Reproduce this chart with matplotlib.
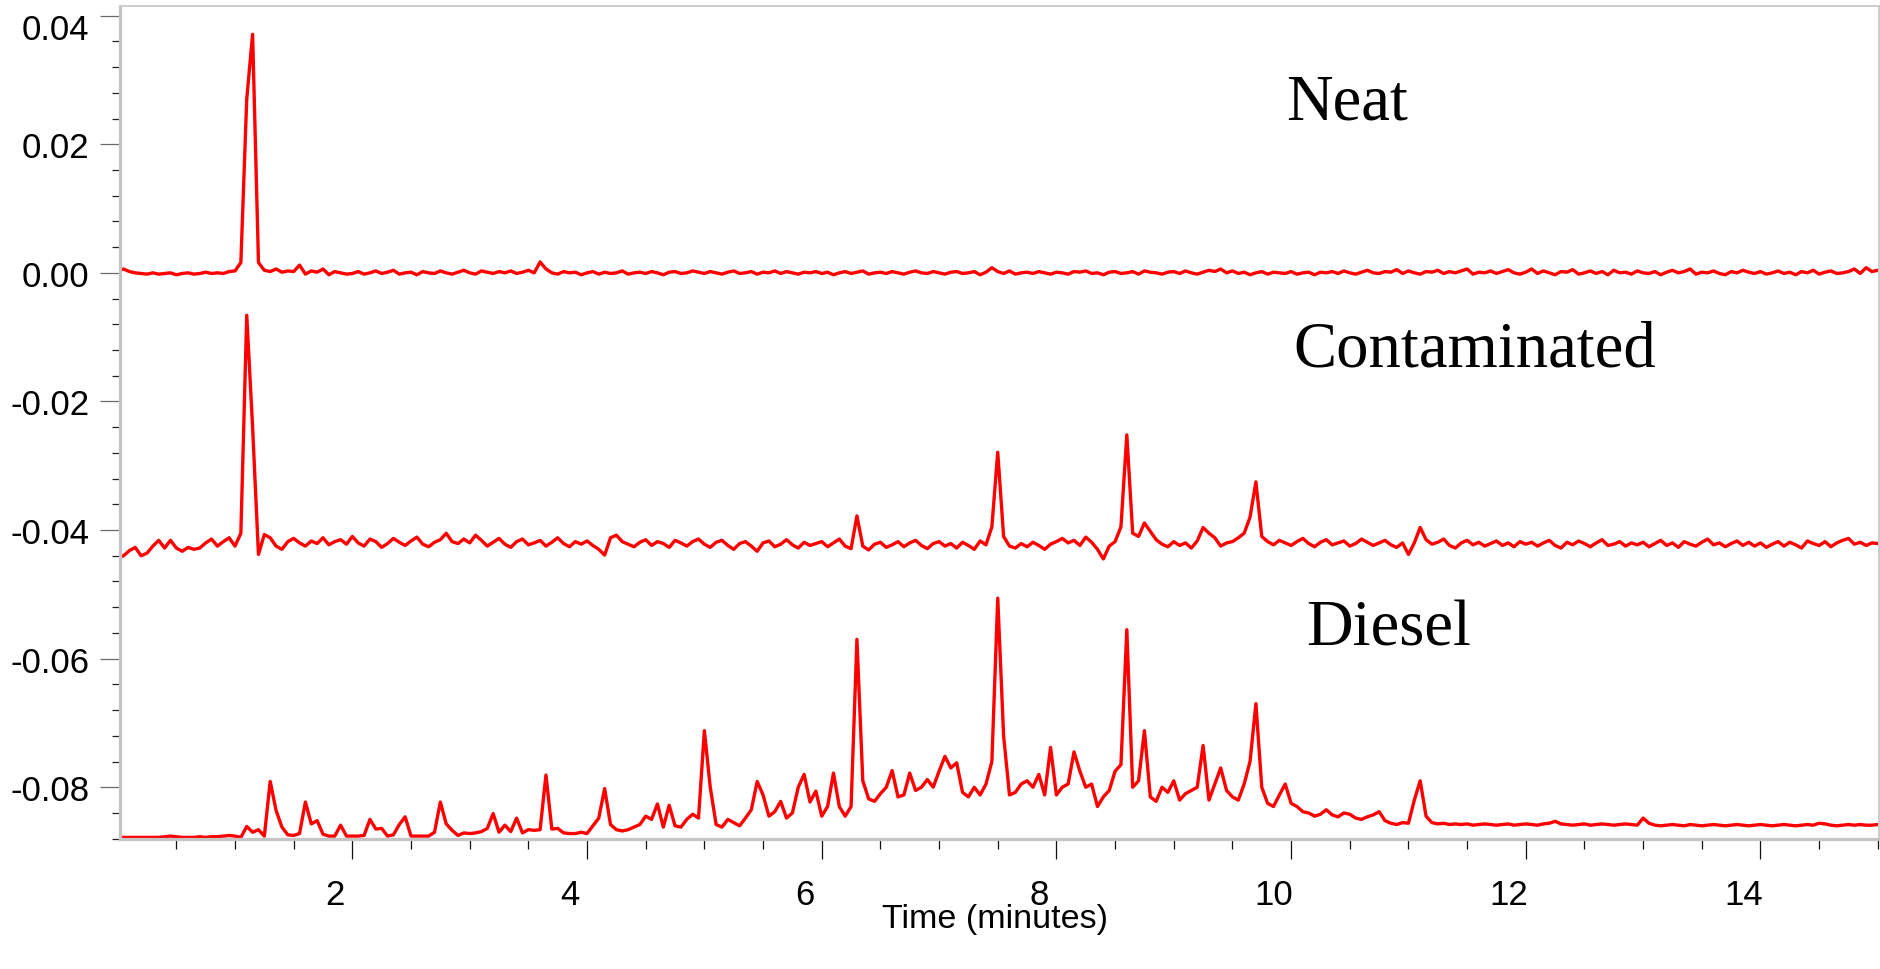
import numpy as np
import matplotlib
matplotlib.use("Agg")
import matplotlib.pyplot as plt
from matplotlib.ticker import FixedLocator, MultipleLocator
from matplotlib.transforms import ScaledTranslation

plt.rcParams['font.family'] = ['Liberation Sans', 'DejaVu Sans']
plt.rcParams['axes.unicode_minus'] = False

# ---------------- data (absorbance in units of 1e-4, one sample every 0.05 min) -------------
T_STEP = 0.05

neat_rows = [
    [3, 6, 2, 0, -1, -2, 0, -2, -1, 0, -3, -1, 0, -2, -1, 1, -1, 0, -1, 2],
    [3, 16, 270, 371, 16, 4, 2, 6, 1, 3, 2, 12, -2, 3, 1, 6, -3, 2, 0, -2],
    [-1, 2, -2, 0, 3, -1, 1, 4, -2, 0, 1, -3, 2, 0, -1, 3, 0, -2, 1, 4],
    [0, -2, 3, 1, -1, 2, 0, 3, -1, 1, 4, 0, 17, 6, 0, -2, 2, 0, 1, -3],
    [0, 2, -2, 1, -1, 0, 3, -2, 0, 1, -1, 2, 0, -3, 1, 2, -1, 0, 3, 1],
    [-1, 2, 0, -2, 1, 3, -1, 0, 2, -2, 1, 0, 3, -1, 2, 0, -2, 1, 0, 2],
    [-1, 1, -3, 0, 2, -1, 1, 3, -2, 0, 1, -1, 2, 0, -2, 1, 3, 0, -1, 2],
    [0, -2, 1, 2, -1, 0, 2, -3, 1, 8, 2, -1, 3, -2, 0, 1, -1, 2, 0, -2],
    [1, 0, -2, 2, 1, 3, -1, 0, -3, 1, 2, -1, 0, 2, -2, 3, 1, 0, -2, 1],
    [2, -1, 3, 0, -2, 1, 4, 2, 6, 0, 3, -1, 1, -3, 0, 2, -2, 1, 0, -1],
    [2, -2, 0, 1, -3, 1, 0, 2, -1, 3, 0, -2, 1, 4, 0, -1, 2, 1, 5, -1],
    [3, 0, -2, 2, 1, 4, -1, 2, 0, 3, 6, -2, 1, 0, 3, -1, 2, 5, 0, -2],
    [1, 6, -1, 3, 0, -3, 2, 1, 5, -2, 0, 3, -1, 2, -3, 4, 0, 1, -2, 3],
    [0, -1, 2, -3, 1, 4, 0, 2, 6, -2, 1, 0, 3, -1, -3, 2, 0, 4, 1, -1],
    [2, -2, 0, 3, -1, 1, -3, 2, 0, 4, -2, 1, 3, -1, 0, 2, 6, -1, 8, 2],
    [4],
]

contaminated_rows = [
    [-443, -440, -432, -427, -440, -436, -425, -416, -428, -416, -428, -433, -427, -430, -428, -420, -414, -425, -418, -412],
    [-425, -405, -66, -240, -438, -407, -412, -425, -430, -418, -413, -420, -425, -417, -421, -412, -423, -418, -415, -422],
    [-410, -420, -425, -414, -418, -427, -421, -413, -419, -424, -417, -411, -422, -426, -419, -415, -405, -418, -421, -414],
    [-420, -408, -416, -425, -419, -413, -422, -427, -418, -414, -423, -420, -416, -425, -419, -412, -421, -426, -418, -422],
    [-417, -424, -430, -439, -412, -408, -418, -422, -426, -419, -415, -424, -418, -421, -427, -416, -420, -425, -418, -414],
    [-422, -427, -419, -416, -424, -430, -421, -418, -425, -433, -420, -417, -426, -422, -415, -423, -428, -419, -424, -421],
    [-418, -426, -420, -414, -425, -429, -378, -425, -431, -422, -419, -427, -423, -418, -426, -420, -416, -424, -429, -421],
    [-418, -425, -421, -428, -419, -424, -430, -417, -423, -395, -279, -410, -425, -428, -421, -426, -419, -424, -430, -422],
    [-418, -413, -420, -416, -424, -411, -419, -430, -445, -425, -418, -395, -252, -405, -410, -389, -402, -415, -422, -426],
    [-418, -424, -420, -428, -417, -396, -405, -412, -425, -420, -418, -412, -405, -380, -325, -410, -418, -423, -416, -420],
    [-424, -418, -413, -421, -426, -419, -415, -423, -420, -417, -425, -421, -414, -419, -424, -420, -416, -423, -427, -420],
    [-438, -420, -396, -415, -422, -419, -414, -424, -428, -420, -416, -423, -419, -425, -421, -417, -424, -420, -426, -418],
    [-422, -419, -425, -420, -416, -424, -428, -419, -423, -417, -421, -426, -420, -415, -424, -422, -418, -425, -420, -423],
    [-419, -426, -421, -416, -424, -420, -427, -418, -422, -425, -419, -414, -423, -420, -426, -421, -417, -424, -419, -425],
    [-420, -427, -422, -418, -425, -419, -423, -428, -417, -421, -424, -418, -426, -420, -416, -413, -422, -419, -424, -420],
    [-421],
]

diesel_rows = [
    [-878, -878, -878, -878, -878, -878, -878, -878, -877, -876, -877, -878, -878, -878, -877, -878, -877, -877, -876, -875],
    [-876, -878, -861, -870, -866, -876, -791, -836, -862, -874, -875, -872, -823, -857, -852, -873, -876, -876, -859, -876],
    [-876, -876, -875, -850, -865, -864, -876, -874, -858, -846, -876, -876, -876, -876, -870, -823, -857, -867, -875, -871],
    [-872, -871, -869, -864, -841, -870, -859, -869, -848, -871, -866, -867, -866, -781, -865, -864, -871, -872, -872, -870],
    [-872, -860, -848, -802, -858, -866, -868, -866, -862, -858, -845, -850, -826, -862, -828, -860, -862, -850, -842, -848],
    [-712, -800, -858, -862, -850, -855, -860, -848, -835, -791, -812, -845, -838, -822, -848, -840, -800, -780, -823, -806],
    [-845, -830, -778, -830, -845, -830, -570, -790, -818, -822, -810, -800, -774, -815, -812, -778, -805, -800, -788, -800],
    [-775, -752, -770, -762, -808, -815, -800, -812, -795, -760, -506, -720, -812, -808, -795, -790, -800, -780, -812, -738],
    [-812, -800, -795, -745, -775, -800, -795, -830, -815, -805, -775, -765, -555, -800, -790, -712, -815, -822, -800, -808],
    [-790, -820, -810, -805, -800, -735, -820, -795, -770, -805, -815, -820, -795, -760, -670, -800, -825, -830, -812, -795],
    [-825, -830, -838, -840, -845, -842, -835, -843, -846, -840, -842, -848, -850, -846, -843, -838, -852, -856, -858, -855],
    [-856, -820, -790, -845, -855, -857, -856, -858, -857, -858, -857, -859, -858, -857, -858, -859, -858, -857, -859, -858],
    [-857, -858, -859, -857, -856, -853, -857, -858, -859, -858, -857, -859, -858, -857, -858, -859, -858, -857, -858, -859],
    [-848, -856, -859, -860, -859, -858, -859, -860, -858, -859, -860, -859, -858, -859, -860, -859, -858, -859, -860, -859],
    [-858, -859, -860, -859, -858, -859, -860, -859, -858, -859, -856, -857, -859, -860, -859, -858, -859, -858, -859, -859],
    [-858],
]

trace_names = ['Neat', 'Contaminated', 'Diesel']

xticks = [2, 4, 6, 8, 10, 12, 14]
xtick_labels = ['2', '4', '6', '8', '10', '12', '14']
yticks = [-0.08, -0.06, -0.04, -0.02, 0.00, 0.02, 0.04]
ytick_labels = ['-0.08', '-0.06', '-0.04', '-0.02', '0.00', '0.02', '0.04']
x_label = 'Time (minutes)'

# ---------------- figure ----------------
W, H, DPI = 1881, 970, 100
fig = plt.figure(figsize=(W / DPI, H / DPI), dpi=DPI)
ax = fig.add_axes([120 / W, 130 / H, 1759 / W, 833 / H])

for rows in (neat_rows, contaminated_rows, diesel_rows):
    y = np.concatenate([np.asarray(r, dtype=float) for r in rows]) * 1e-4
    t = np.arange(len(y)) * T_STEP
    ax.plot(t, y, color='#ff0000', lw=2.4, solid_joinstyle='round')

ax.set_xlim(0.02, 15.01)
ax.set_ylim(-0.08805, 0.0415)

ax.xaxis.set_major_locator(FixedLocator(xticks))
ax.set_xticklabels(xtick_labels)
ax.xaxis.set_minor_locator(MultipleLocator(0.5))
ax.yaxis.set_major_locator(FixedLocator(yticks))
ax.set_yticklabels(ytick_labels)
ax.yaxis.set_minor_locator(MultipleLocator(0.004))

ax.tick_params(axis='y', which='major', direction='out', length=14.4, width=0.9,
               color='#6a6a6a', pad=7.5, labelsize=25)
ax.tick_params(axis='y', which='minor', direction='out', length=6.0, width=0.9, color='#222222')
ax.tick_params(axis='x', which='major', direction='out', length=14.4, width=0.9,
               color='#111111', pad=14, labelsize=25)
ax.tick_params(axis='x', which='minor', direction='out', length=7.2, width=0.9, color='#111111')

for side in ('left', 'bottom'):
    ax.spines[side].set_color('#c4c4c4')
    ax.spines[side].set_linewidth(2.3)
for side in ('top', 'right'):
    ax.spines[side].set_color('#cccccc')
    ax.spines[side].set_linewidth(1.4)

# tick labels in the reference sit a little left of their ticks
shift_x = ScaledTranslation(-17 / DPI, 0, fig.dpi_scale_trans)
for lab in ax.get_xticklabels():
    lab.set_transform(lab.get_transform() + shift_x)
# the top y label is pushed down inside the figure
ylabs = ax.get_yticklabels()
ylabs[-1].set_transform(ylabs[-1].get_transform() + ScaledTranslation(0, -10 / DPI, fig.dpi_scale_trans))

ax.set_xlabel(x_label, fontsize=24.5)
ax.xaxis.set_label_coords(0.4974, -0.0960)
ax.xaxis.label.set_va('center')

# trace names
name_pos = [(9.96, 0.02405), (10.02, -0.0144), (10.13, -0.0578)]
for name, (tx, ty) in zip(trace_names, name_pos):
    ax.text(tx, ty, name, ha='left', va='baseline', fontsize=46.5,
            family=['Liberation Serif', 'DejaVu Serif'], color='black')

fig.savefig('out.png', dpi=DPI)
